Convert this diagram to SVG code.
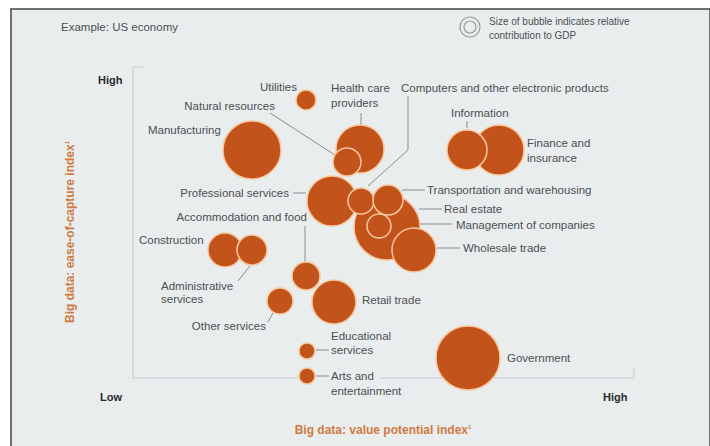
<svg xmlns="http://www.w3.org/2000/svg" width="710" height="446" viewBox="0 0 710 446">
<style>
.lbl{font-family:"Liberation Sans",Arial,sans-serif;font-size:11.5px;fill:#4d4f52}
.ax{font-family:"Liberation Sans",Arial,sans-serif;font-size:11px;font-weight:bold;fill:#2a2a2a}
.ttl{font-family:"Liberation Sans",Arial,sans-serif;font-size:12px;font-weight:bold;fill:#d07a42}
.b{fill:#c2531b;stroke:#f7c79d;stroke-width:1.5}
.ln{stroke:#8a8d90;stroke-width:1;fill:none}
.axis{stroke:#c9cdcf;stroke-width:1.2;fill:none}
</style>
<rect x="0" y="0" width="710" height="446" fill="#ffffff"/>
<rect x="11" y="9" width="699" height="440" fill="#e9edee" stroke="#4f4f4f" stroke-width="1.6"/>
<text class="lbl" x="61" y="31">Example: US economy</text>
<g id="legend">
<circle cx="470" cy="27" r="10" fill="none" stroke="#9a9c9e" stroke-width="1.2"/>
<circle cx="470" cy="27" r="6" fill="none" stroke="#9a9c9e" stroke-width="1.2"/>
<text class="lbl" x="489" y="25" style="font-size:10px">Size of bubble indicates relative</text>
<text class="lbl" x="489" y="39" style="font-size:10px">contribution to GDP</text>
</g>
<g id="axes">
<path class="axis" d="M143,67 H133 V378 H298 M380,378 H634 V369"/>
<text class="ax" x="98" y="84">High</text>
<text class="ax" x="100" y="401">Low</text>
<text class="ax" x="603" y="401">High</text>
<text class="ttl" x="383" y="434" text-anchor="middle">Big data: value potential index<tspan font-size="6" dy="-5">1</tspan></text>
<text class="ttl" transform="translate(74,232) rotate(-90)" text-anchor="middle">Big data: ease-of-capture index<tspan font-size="6" dy="-5">1</tspan></text>
</g>
<g id="connectors">
<path class="ln" d="M270,113 L338,157"/>
<path class="ln" d="M361,113 V126"/>
<path class="ln" d="M408,96 V150 L368,186"/>
<path class="ln" d="M467,121 V128"/>
<path class="ln" d="M293,193 H306"/>
<path class="ln" d="M402,190 H425"/>
<path class="ln" d="M419,209 H442"/>
<path class="ln" d="M391,224 H452"/>
<path class="ln" d="M437,248 H460"/>
<path class="ln" d="M305,226 V262"/>
<path class="ln" d="M238,281 L250,266"/>
<path class="ln" d="M268,322 L273,313"/>
<path class="ln" d="M316,350 H329"/>
<path class="ln" d="M316,376 H329"/>
</g>
<g id="manufacturing"><circle class="b" cx="252" cy="150" r="29"/><text class="lbl" x="148" y="134">Manufacturing</text></g>
<g id="utilities"><circle class="b" cx="306" cy="100" r="10"/><text class="lbl" x="297" y="91" text-anchor="end">Utilities</text></g>
<g id="health-care"><circle class="b" cx="360" cy="149" r="24"/><text class="lbl" x="331" y="92">Health care</text><text class="lbl" x="331" y="107">providers</text></g>
<g id="natural-resources"><circle class="b" cx="347" cy="162" r="14"/><text class="lbl" x="275" y="110" text-anchor="end">Natural resources</text></g>
<g id="computers"><text class="lbl" x="401" y="92">Computers and other electronic products</text></g>
<g id="finance"><circle class="b" cx="499" cy="150" r="25"/><text class="lbl" x="527" y="147">Finance and</text><text class="lbl" x="527" y="162">insurance</text></g>
<g id="information"><circle class="b" cx="467" cy="150" r="20"/><text class="lbl" x="451" y="117">Information</text></g>
<g id="professional"><circle class="b" cx="332" cy="201" r="25"/><text class="lbl" x="289" y="197" text-anchor="end">Professional services</text></g>
<g id="real-estate"><circle class="b" cx="387" cy="227" r="33"/><text class="lbl" x="444" y="213">Real estate</text></g>
<g id="computers-bubble"><circle class="b" cx="361" cy="201" r="13"/></g>
<g id="transportation"><circle class="b" cx="388" cy="200" r="15"/><text class="lbl" x="427" y="194">Transportation and warehousing</text></g>
<g id="management"><circle class="b" cx="379" cy="226" r="12"/><text class="lbl" x="456" y="229">Management of companies</text></g>
<g id="wholesale"><circle class="b" cx="414" cy="250" r="22"/><text class="lbl" x="463" y="252">Wholesale trade</text></g>
<g id="accommodation"><circle class="b" cx="306" cy="276" r="14"/><text class="lbl" x="307" y="221" text-anchor="end">Accommodation and food</text></g>
<g id="construction"><circle class="b" cx="225" cy="250" r="17"/><text class="lbl" x="139" y="244">Construction</text></g>
<g id="administrative"><circle class="b" cx="252" cy="250" r="15"/><text class="lbl" x="161" y="290">Administrative</text><text class="lbl" x="161" y="303">services</text></g>
<g id="other-services"><circle class="b" cx="280" cy="301" r="13"/><text class="lbl" x="266" y="330" text-anchor="end">Other services</text></g>
<g id="retail"><circle class="b" cx="334" cy="302" r="22"/><text class="lbl" x="362" y="304">Retail trade</text></g>
<g id="educational"><circle class="b" cx="307" cy="351" r="8"/><text class="lbl" x="331" y="340">Educational</text><text class="lbl" x="331" y="354">services</text></g>
<g id="arts"><circle class="b" cx="307" cy="376" r="8"/><text class="lbl" x="331" y="380">Arts and</text><text class="lbl" x="331" y="395">entertainment</text></g>
<g id="government"><circle class="b" cx="468" cy="358" r="32"/><text class="lbl" x="507" y="362">Government</text></g>
</svg>
